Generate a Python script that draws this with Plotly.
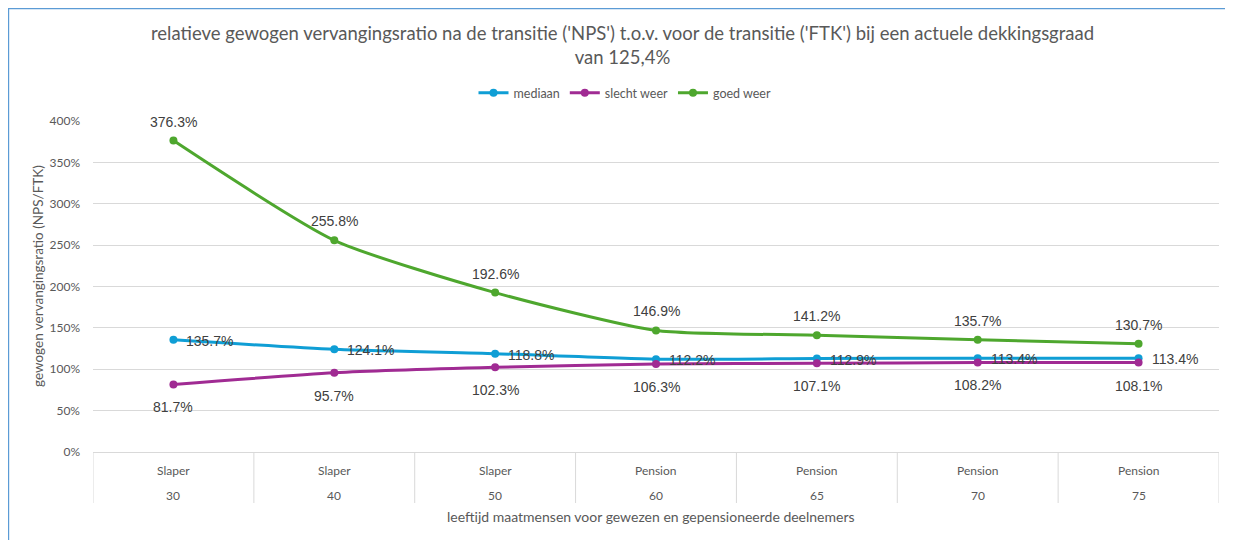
import plotly.graph_objects as go

groups = ["Slaper", "Slaper", "Slaper", "Pension", "Pension", "Pension", "Pension"]
ages = ["30", "40", "50", "60", "65", "70", "75"]
mediaan = [135.7, 124.1, 118.8, 112.2, 112.9, 113.4, 113.4]
slecht_weer = [81.7, 95.7, 102.3, 106.3, 107.1, 108.2, 108.1]
goed_weer = [376.3, 255.8, 192.6, 146.9, 141.2, 135.7, 130.7]
y_ticks = [0, 50, 100, 150, 200, 250, 300, 350, 400]

title_text = ("relatieve gewogen vervangingsratio na de transitie ('NPS') t.o.v. voor de transitie ('FTK') "
              "bij een actuele dekkingsgraad<br>van 125,4%")
x_title = "leeftijd maatmensen voor gewezen en gepensioneerde deelnemers"
y_title = "gewogen vervangingsratio (NPS/FTK)"

C_MED = "#0F9ED5"
C_SLE = "#A02B93"
C_GOED = "#4EA72E"
GREY = "#595959"
LABEL_FONT = dict(family="Liberation Sans, Arial, sans-serif", size=14, color="#404040")
TICK_FONT = "Lato, Open Sans, sans-serif"

x = list(range(len(ages)))

def fmt(v):
    return f"{v:.1f}%"

fig = go.Figure()
for name, vals, col in [("mediaan", mediaan, C_MED), ("slecht weer", slecht_weer, C_SLE),
                        ("goed weer", goed_weer, C_GOED)]:
    fig.add_trace(go.Scatter(
        x=x, y=vals, name=name, mode="lines+markers",
        line=dict(color=col, width=3, shape="spline", smoothing=0.6),
        marker=dict(size=8, color=col),
    ))

# page offset (browser default body margin)
O = 8
W, H = 1233 - O, 540 - O
# plot area in page coordinates: x 93..1219, y 121..452
L = 93 - O
T = 121 - O
R = W - (1219 - O)
B = H - (452 - O)
PH = H - T - B
PW = W - L - R

def py(page_y):
    return (H - B - (page_y - O)) / PH

def px(page_x):
    return ((page_x - O) - L) / PW

shapes = []
for i in range(len(ages) + 1):
    shapes.append(dict(type="line", xref="x", yref="paper", x0=i - 0.5, x1=i - 0.5,
                       y0=0, y1=py(503), line=dict(color="#D9D9D9", width=1)))
shapes.append(dict(type="rect", xref="paper", yref="paper", x0=px(8.2), x1=px(1300),
                   y0=py(620), y1=py(8.2), line=dict(color="#5B9BD5", width=2),
                   fillcolor="rgba(0,0,0,0)", layer="below"))

annotations = []
for i, v in enumerate(mediaan):
    annotations.append(dict(x=i, y=v, xref="x", yref="y", text=fmt(v), showarrow=False,
                            xanchor="left", yanchor="middle", xshift=11, yshift=-1, font=LABEL_FONT))
for i, v in enumerate(slecht_weer):
    annotations.append(dict(x=i, y=v, xref="x", yref="y", text=fmt(v), showarrow=False,
                            xanchor="center", yanchor="middle", yshift=-23, font=LABEL_FONT))
for i, v in enumerate(goed_weer):
    annotations.append(dict(x=i, y=v, xref="x", yref="y", text=fmt(v), showarrow=False,
                            xanchor="center", yanchor="middle", yshift=19, font=LABEL_FONT))
for i, (g, a) in enumerate(zip(groups, ages)):
    annotations.append(dict(x=i, y=py(470), xref="x", yref="paper", text=g, showarrow=False,
                            yanchor="middle", font=dict(family=TICK_FONT, size=12, color=GREY)))
    annotations.append(dict(x=i, y=py(495), xref="x", yref="paper", text=a, showarrow=False,
                            yanchor="middle", font=dict(family=TICK_FONT, size=12, color=GREY)))
annotations.append(dict(x=px(651), y=py(516), xref="paper", yref="paper", text=x_title, showarrow=False,
                        yanchor="middle", font=dict(family=TICK_FONT, size=14, color=GREY)))
annotations.append(dict(x=px(38), y=py(276), xref="paper", yref="paper", text=y_title, showarrow=False,
                        textangle=-90, xanchor="center", yanchor="middle",
                        font=dict(family=TICK_FONT, size=13.5, color=GREY)))
annotations.append(dict(x=px(622), y=py(45), xref="paper", yref="paper", text=title_text, showarrow=False,
                        xanchor="center", yanchor="middle", align="center",
                        font=dict(family="Lato, Open Sans, sans-serif", size=18.5, color=GREY)))

fig.update_layout(
    width=W, height=H,
    margin=dict(l=L, r=R, t=T, b=B, autoexpand=False),
    paper_bgcolor="white", plot_bgcolor="white",
    legend=dict(orientation="h", x=px(625), xanchor="center", y=py(93), yanchor="middle",
                font=dict(family=TICK_FONT, size=12.5, color=GREY), itemwidth=30,
                tracegroupgap=0, bgcolor="rgba(0,0,0,0)"),
    showlegend=True,
    xaxis=dict(range=[-0.5, len(ages) - 0.5], showticklabels=False, showgrid=False, automargin=False,
               zeroline=False, showline=True, linecolor="#D9D9D9", linewidth=1, fixedrange=True),
    yaxis=dict(range=[0, 400], tickvals=y_ticks, ticktext=[f"{v}%" for v in y_ticks], automargin=False,
               showgrid=True, gridcolor="#D9D9D9", gridwidth=1, zeroline=False, showline=False,
               tickfont=dict(family=TICK_FONT, size=12, color=GREY),
               ticklabelstandoff=12),
    shapes=shapes, annotations=annotations,
)

fig.write_html("out.html")
